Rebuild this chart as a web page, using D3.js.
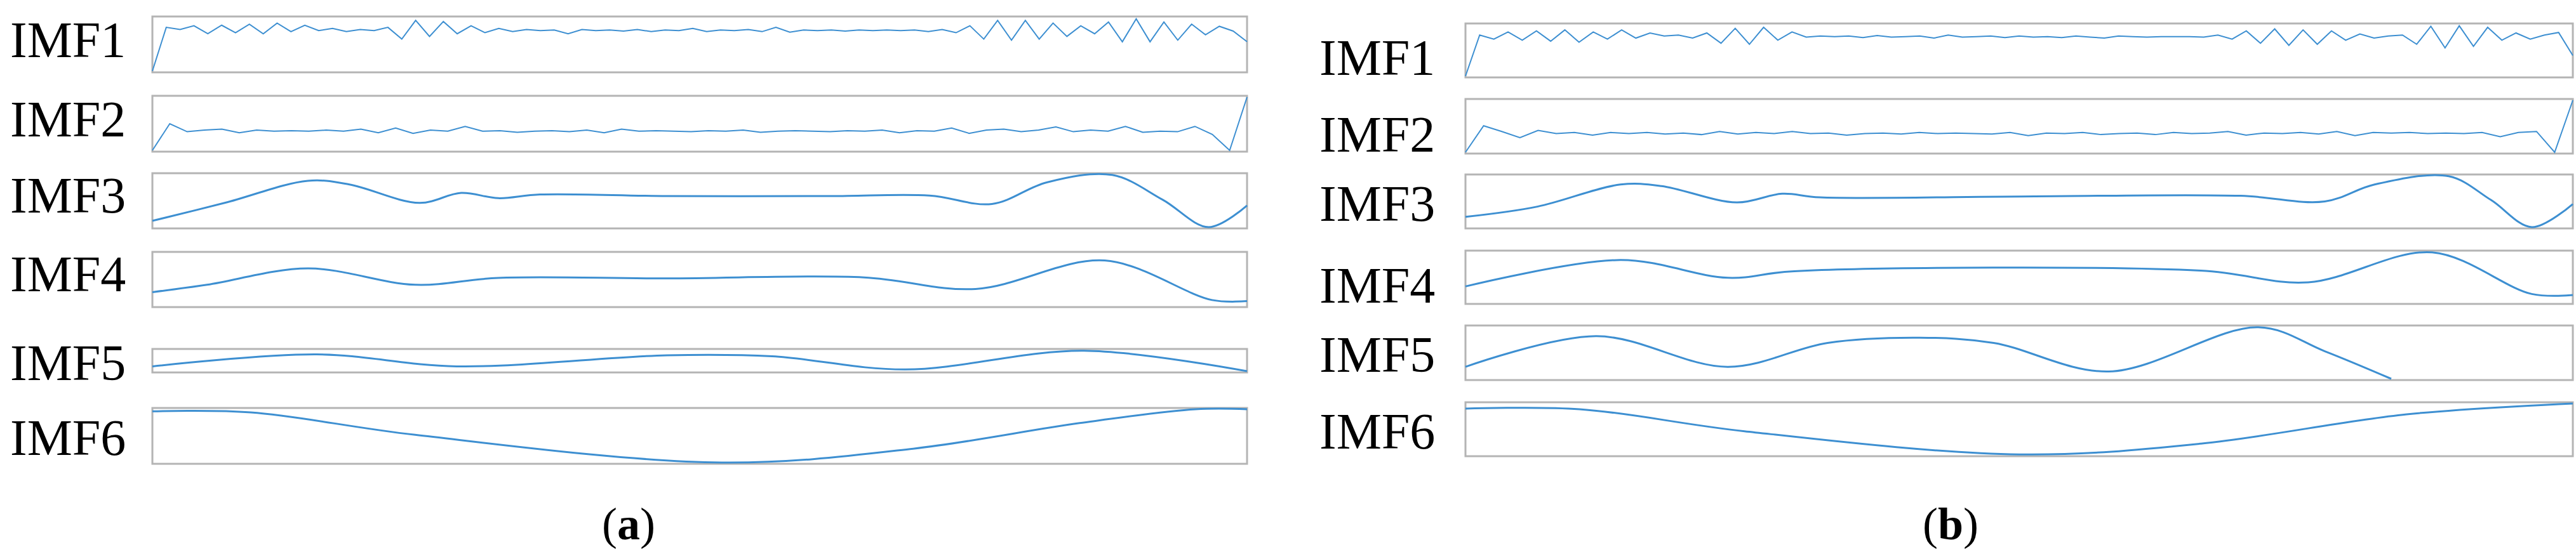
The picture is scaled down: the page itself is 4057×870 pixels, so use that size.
<!DOCTYPE html>
<html>
<head>
<meta charset="utf-8">
<script src="https://cdn.jsdelivr.net/npm/d3@7"></script>
<style>
  body { margin: 0; background: #fff; }
  text { font-family: "Liberation Serif", "Times New Roman", serif; }
</style>
</head>
<body>
<div id="chart"></div>
<script>
// ---- data: normalised amplitude (0 = box bottom, 1 = box top) ----
const labels = ['IMF1', 'IMF2', 'IMF3', 'IMF4', 'IMF5', 'IMF6']
const panelNames = ['a', 'b']

// noisy series: evenly spaced samples
const aIMF1 = [0, 0.82, 0.78, 0.85, 0.7, 0.86, 0.72, 0.88, 0.7, 0.9, 0.74, 0.86, 0.76, 0.8, 0.74, 0.78, 0.76, 0.82, 0.6, 0.95, 0.65, 0.93, 0.7, 0.85, 0.72, 0.8, 0.74, 0.78, 0.76, 0.77, 0.7, 0.78, 0.76, 0.77, 0.75, 0.78, 0.74, 0.77, 0.76, 0.8, 0.74, 0.77, 0.76, 0.78, 0.74, 0.82, 0.73, 0.77, 0.76, 0.77, 0.75, 0.77, 0.76, 0.77, 0.76, 0.77, 0.74, 0.78, 0.72, 0.85, 0.6, 0.95, 0.58, 0.95, 0.6, 0.9, 0.65, 0.85, 0.7, 0.92, 0.55, 0.98, 0.55, 0.92, 0.58, 0.88, 0.68, 0.84, 0.75, 0.55]
const aIMF2 = [0, 0.5, 0.35, 0.38, 0.4, 0.33, 0.38, 0.36, 0.37, 0.36, 0.38, 0.36, 0.4, 0.33, 0.42, 0.32, 0.38, 0.36, 0.45, 0.36, 0.37, 0.34, 0.36, 0.37, 0.35, 0.38, 0.33, 0.4, 0.36, 0.37, 0.36, 0.35, 0.37, 0.36, 0.38, 0.34, 0.36, 0.37, 0.36, 0.35, 0.37, 0.36, 0.38, 0.33, 0.37, 0.36, 0.42, 0.32, 0.38, 0.4, 0.35, 0.38, 0.44, 0.35, 0.38, 0.36, 0.45, 0.34, 0.36, 0.35, 0.45, 0.3, 0.0, 1.0]
const bIMF1 = [0, 0.8, 0.72, 0.86, 0.7, 0.88, 0.68, 0.9, 0.66, 0.86, 0.72, 0.9, 0.74, 0.84, 0.78, 0.8, 0.74, 0.84, 0.64, 0.93, 0.62, 0.95, 0.7, 0.86, 0.76, 0.78, 0.77, 0.78, 0.75, 0.79, 0.76, 0.77, 0.78, 0.74, 0.8, 0.76, 0.77, 0.78, 0.75, 0.78, 0.76, 0.77, 0.75, 0.78, 0.76, 0.74, 0.78, 0.77, 0.76, 0.77, 0.77, 0.77, 0.76, 0.8, 0.72, 0.88, 0.64, 0.92, 0.6, 0.9, 0.62, 0.88, 0.7, 0.82, 0.74, 0.78, 0.8, 0.62, 0.97, 0.55, 0.98, 0.58, 0.95, 0.7, 0.84, 0.72, 0.8, 0.85, 0.4]
const bIMF2 = [0, 0.51, 0.4, 0.28, 0.42, 0.36, 0.38, 0.33, 0.38, 0.36, 0.38, 0.35, 0.37, 0.34, 0.4, 0.35, 0.38, 0.36, 0.4, 0.36, 0.37, 0.33, 0.36, 0.37, 0.35, 0.38, 0.36, 0.37, 0.36, 0.35, 0.38, 0.32, 0.37, 0.36, 0.38, 0.34, 0.36, 0.37, 0.34, 0.38, 0.36, 0.37, 0.4, 0.33, 0.37, 0.36, 0.38, 0.35, 0.4, 0.32, 0.38, 0.37, 0.38, 0.36, 0.37, 0.36, 0.38, 0.3, 0.38, 0.4, 0.0, 1.0]

// smooth series: [position 0..1, amplitude]
const aIMF3 = [[0, 0.12], [0.066, 0.46], [0.142, 0.88], [0.18, 0.81], [0.244, 0.46], [0.282, 0.65], [0.316, 0.55], [0.354, 0.62], [0.47, 0.59], [0.62, 0.59], [0.71, 0.6], [0.767, 0.44], [0.817, 0.85], [0.877, 0.99], [0.923, 0.52], [0.965, 0.0], [1, 0.41]]
const aIMF4 = [[0, 0.26], [0.05, 0.4], [0.142, 0.71], [0.24, 0.4], [0.316, 0.53], [0.47, 0.52], [0.65, 0.54], [0.752, 0.32], [0.87, 0.86], [0.968, 0.11], [1, 0.09]]
const aIMF5 = [[0, 0.23], [0.15, 0.8], [0.278, 0.23], [0.47, 0.76], [0.566, 0.71], [0.688, 0.08], [0.851, 0.98], [1, 0.0]]
const aIMF6 = [[0, 0.96], [0.09, 0.94], [0.24, 0.52], [0.52, 0.0], [0.695, 0.26], [0.847, 0.74], [0.953, 1], [1, 1]]
const bIMF3 = [[0, 0.2], [0.065, 0.4], [0.14, 0.83], [0.177, 0.8], [0.245, 0.48], [0.286, 0.65], [0.32, 0.58], [0.514, 0.6], [0.7, 0.61], [0.776, 0.5], [0.821, 0.83], [0.888, 0.99], [0.926, 0.53], [0.963, 0.0], [1, 0.45]]
const bIMF4 = [[0, 0.32], [0.14, 0.84], [0.237, 0.49], [0.297, 0.62], [0.664, 0.63], [0.761, 0.4], [0.873, 0.99], [0.963, 0.17], [1, 0.15]]
const bIMF5 = [[0, 0.23], [0.118, 0.82], [0.237, 0.23], [0.327, 0.69], [0.41, 0.79], [0.477, 0.69], [0.581, 0.14], [0.716, 0.99], [0.776, 0.53], [0.836, 0.0]]
const bIMF6 = [[0, 0.9], [0.103, 0.89], [0.252, 0.46], [0.5, 0.01], [0.664, 0.22], [0.85, 0.79], [1, 1]]

const toPairs = arr => arr.map((v, i) => [i / (arr.length - 1), v])
const panelSeries = [
  [toPairs(aIMF1), toPairs(aIMF2), aIMF3, aIMF4, aIMF5, aIMF6],
  [toPairs(bIMF1), toPairs(bIMF2), bIMF3, bIMF4, bIMF5, bIMF6]
]

// layout
const W = 4057, H = 870
const panels = [
  { x0: 240, x1: 1964, labelX: 16, capX: 990,
    rows: [[26, 114], [151, 239], [273, 360], [397, 484], [550, 587], [643, 731]],
    baseOff: [-10, -10, -12, -12, 0, 0] },
  { x0: 2308, x1: 4052, labelX: 2078, capX: 3072,
    rows: [[37, 122], [156, 242], [275, 360], [395, 479], [513, 599], [634, 719]],
    baseOff: [8, 10, 0, 10, 0, 0] }
]

const svg = d3.select('#chart').append('svg')
  .attr('width', W).attr('height', H)

panels.forEach((p, pi) => {
  const x = d3.scaleLinear().domain([0, 1]).range([p.x0, p.x1])
  p.rows.forEach(([top, bot], ri) => {
    const y = d3.scaleLinear().domain([0, 1]).range([bot - 2, top + 2])
    const smooth = ri >= 2
    const line = d3.line()
      .x(d => x(d[0])).y(d => y(d[1]))
      .curve(smooth ? d3.curveCatmullRom.alpha(0.5) : d3.curveLinear)

    svg.append('rect')
      .attr('x', p.x0).attr('y', top)
      .attr('width', p.x1 - p.x0).attr('height', bot - top)
      .attr('fill', 'none').attr('stroke', '#b4b4b4').attr('stroke-width', 3)

    svg.append('path')
      .datum(panelSeries[pi][ri])
      .attr('d', line)
      .attr('fill', 'none')
      .attr('stroke', '#3d8fd1')
      .attr('stroke-width', smooth ? 3 : 2)

    // label sits roughly on lower half of the box
    svg.append('text')
      .attr('x', p.labelX)
      .attr('y', (top + bot) / 2 + 30 + p.baseOff[ri])
      .attr('font-size', 80)
      .attr('fill', '#000')
      .text(labels[ri])
  })

  const cap = svg.append('text')
    .attr('x', p.capX).attr('y', 850)
    .attr('text-anchor', 'middle')
    .attr('font-size', 72)
  cap.append('tspan').text('(')
  cap.append('tspan').attr('font-weight', 'bold').text(panelNames[pi])
  cap.append('tspan').text(')')
})
</script>
</body>
</html>
